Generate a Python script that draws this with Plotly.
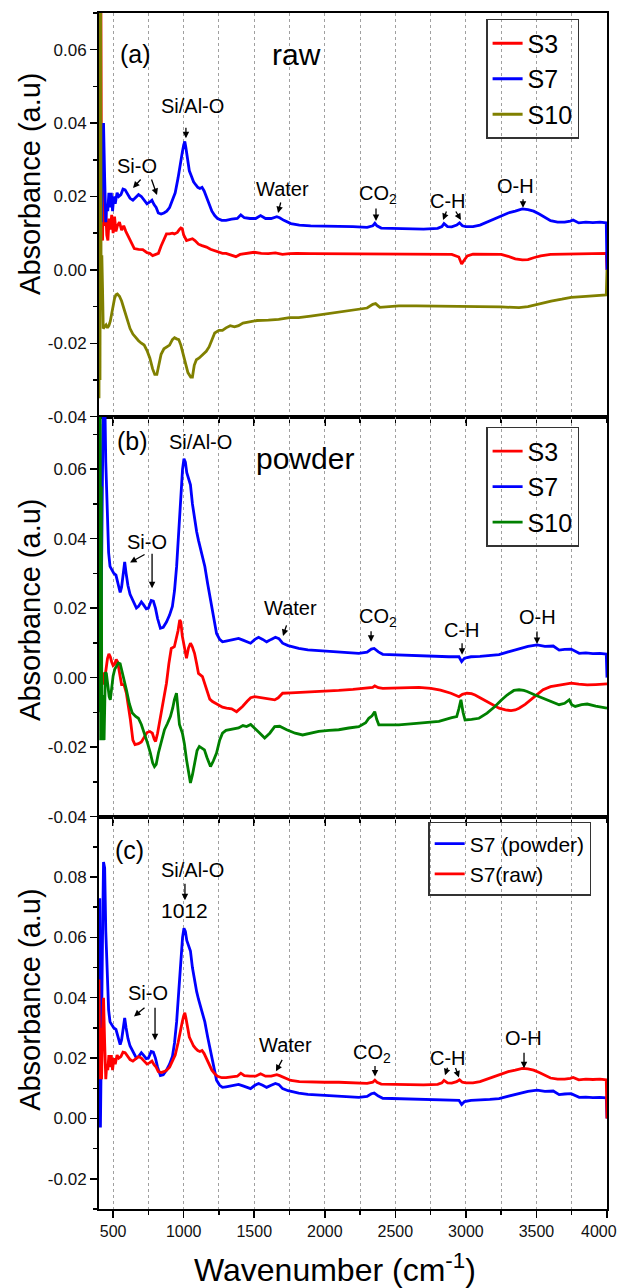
import plotly.graph_objects as go

# ---------------- data ----------------
s7_raw_wn = [400, 406, 412, 418, 424, 432, 440, 448, 455, 462, 470, 478, 487, 496, 505, 515, 528, 540, 555, 570,
             585, 600, 620, 640, 660, 680, 700, 720, 740, 760, 775, 790, 805, 820, 840, 860, 880, 900, 920, 940,
             960, 975, 990, 1000, 1008, 1015, 1025, 1040, 1055, 1070, 1085, 1100, 1115, 1130, 1145, 1160, 1180,
             1200, 1220, 1240, 1270, 1300, 1340, 1380, 1405, 1430, 1470, 1510, 1545, 1580, 1620, 1660, 1680, 1710,
             1760, 1820, 1900, 2000, 2100, 2200, 2300, 2340, 2355, 2370, 2400, 2500, 2600, 2700, 2800, 2830, 2845,
             2870, 2900, 2935, 2955, 2975, 3000, 3050, 3100, 3150, 3200, 3250, 3300, 3350, 3400, 3440, 3480, 3520,
             3560, 3600, 3650, 3700, 3740, 3760, 3800, 3850, 3900, 3950, 3995, 4000]
s7_raw_abs = [0.046, 0.013, 0.030, 0.013, 0.028, 0.040, 0.025, 0.013, 0.018, 0.016, 0.021, 0.017, 0.021, 0.016,
              0.020, 0.018, 0.021, 0.020, 0.0205, 0.022, 0.0218, 0.0208, 0.0195, 0.019, 0.0198, 0.0205, 0.020,
              0.019, 0.018, 0.0185, 0.019, 0.0178, 0.017, 0.0155, 0.0152, 0.0155, 0.016, 0.017, 0.019, 0.021,
              0.025, 0.029, 0.032, 0.034, 0.035, 0.0335, 0.031, 0.027, 0.0255, 0.024, 0.0232, 0.0225, 0.0222,
              0.0225, 0.0215, 0.020, 0.018, 0.016, 0.0148, 0.014, 0.0135, 0.0135, 0.0138, 0.014, 0.015, 0.0142,
              0.014, 0.014, 0.0148, 0.014, 0.014, 0.0145, 0.0142, 0.0135, 0.0126, 0.0122, 0.012, 0.012, 0.012,
              0.0118, 0.0116, 0.012, 0.0127, 0.012, 0.0114, 0.0113, 0.0112, 0.0111, 0.0113, 0.0118, 0.0126,
              0.0118, 0.0117, 0.0122, 0.0128, 0.012, 0.0118, 0.0118, 0.0122, 0.013, 0.0138, 0.0148, 0.0155,
              0.016, 0.0166, 0.0164, 0.016, 0.0152, 0.0142, 0.0134, 0.013, 0.013, 0.0133, 0.0136, 0.0128, 0.013,
              0.0129, 0.013, 0.0128, 0.000]

s7_pow_wn = [400, 405, 410, 418, 425, 432, 440, 448, 458, 468, 478, 490, 505, 520, 535, 550, 560, 572, 582, 592,
             605, 620, 636, 650, 665, 680, 700, 715, 735, 750, 770, 785, 800, 815, 835, 855, 878, 900, 920, 935,
             950, 965, 980, 992, 1002, 1012, 1022, 1035, 1048, 1062, 1077, 1092, 1105, 1120, 1135, 1150, 1170,
             1190, 1210, 1233, 1255, 1275, 1300, 1332, 1360, 1389, 1420, 1450, 1474, 1505, 1531, 1560, 1588, 1620,
             1650, 1675, 1701, 1740, 1780, 1815, 1880, 1957, 2030, 2099, 2170, 2241, 2300, 2330, 2350, 2380, 2411,
             2470, 2525, 2600, 2700, 2809, 2880, 2951, 2970, 2990, 3036, 3100, 3170, 3235, 3300, 3377, 3440, 3505,
             3560, 3619, 3661, 3700, 3746, 3803, 3850, 3900, 3950, 3995, 4000]
s7_pow_abs = [0.020, 0.073, -0.003, 0.040, 0.060, 0.085, 0.083, 0.062, 0.045, 0.036, 0.032, 0.031, 0.030, 0.0295,
              0.027, 0.0245, 0.026, 0.031, 0.0333, 0.030, 0.0265, 0.024, 0.0225, 0.021, 0.020, 0.0205, 0.0218,
              0.021, 0.0198, 0.020, 0.0222, 0.022, 0.020, 0.017, 0.0142, 0.0145, 0.016, 0.018, 0.0205, 0.025,
              0.032, 0.042, 0.052, 0.060, 0.063, 0.062, 0.059, 0.057, 0.0555, 0.050, 0.0453, 0.042, 0.0395, 0.037,
              0.0345, 0.032, 0.027, 0.0223, 0.017, 0.0127, 0.011, 0.0103, 0.0105, 0.0108, 0.011, 0.0113, 0.0108,
              0.0102, 0.0099, 0.011, 0.0116, 0.011, 0.0103, 0.011, 0.0116, 0.0112, 0.0099, 0.0092, 0.0087, 0.0084,
              0.008, 0.0078, 0.0076, 0.0075, 0.0072, 0.007, 0.0073, 0.0082, 0.0084, 0.0074, 0.0067, 0.0066, 0.0065,
              0.0064, 0.0062, 0.006, 0.006, 0.006, 0.0046, 0.0056, 0.006, 0.0061, 0.0063, 0.0066, 0.0074, 0.0084,
              0.009, 0.0094, 0.009, 0.0091, 0.0079, 0.0081, 0.0082, 0.007, 0.0071, 0.0069, 0.007, 0.0068, 0.0]

s3_raw_wn = [400, 406, 412, 418, 425, 432, 440, 448, 455, 463, 472, 480, 490, 500, 510, 520, 530, 545, 560, 575,
             590, 610, 630, 650, 680, 710, 740, 760, 780, 800, 821, 840, 860, 878, 900, 920, 934, 955, 970, 980,
             990, 1000, 1020, 1040, 1062, 1080, 1105, 1130, 1162, 1190, 1233, 1275, 1300, 1340, 1370, 1400, 1450,
             1500, 1550, 1600, 1650, 1700, 1750, 1800, 1900, 2000, 2200, 2400, 2600, 2800, 2900, 2950, 2970, 2985,
             3010, 3050, 3150, 3250, 3300, 3350, 3400, 3440, 3480, 3530, 3600, 3700, 3800, 3900, 3995, 4000]
s3_raw_abs = [0.030, 0.090, 0.090, 0.010, 0.008, 0.0225, 0.012, 0.016, 0.0095, 0.008, 0.014, 0.011, 0.015, 0.010,
              0.0145, 0.0105, 0.012, 0.013, 0.0108, 0.012, 0.0105, 0.009, 0.0075, 0.0058, 0.0056, 0.0055, 0.0047,
              0.0045, 0.0039, 0.0042, 0.0045, 0.0065, 0.0085, 0.0098, 0.0098, 0.0100, 0.0098, 0.0102, 0.0110,
              0.0114, 0.0112, 0.0095, 0.0080, 0.0082, 0.0085, 0.0080, 0.0070, 0.0066, 0.0062, 0.0056, 0.0050,
              0.0045, 0.0045, 0.0040, 0.0036, 0.0042, 0.0046, 0.0048, 0.0045, 0.0044, 0.0046, 0.0042, 0.0044,
              0.0045, 0.0044, 0.0044, 0.0043, 0.0043, 0.0044, 0.0043, 0.0042, 0.0035, 0.0016, 0.0025, 0.0038,
              0.0043, 0.0043, 0.0042, 0.0037, 0.0030, 0.0027, 0.0028, 0.0033, 0.0038, 0.0042, 0.0043, 0.0045,
              0.0044, 0.0045, 0.0]

s10_raw_wn = [400, 403, 407, 411, 415, 420, 425, 430, 440, 450, 460, 470, 480, 490, 500, 510, 520, 530, 545, 560,
              580, 600, 620, 640, 660, 680, 700, 720, 740, 760, 780, 795, 810, 825, 840, 860, 880, 900, 920, 935,
              950, 965, 980, 995, 1010, 1030, 1050, 1062, 1075, 1090, 1110, 1130, 1160, 1180, 1200, 1220, 1250,
              1275, 1300, 1330, 1360, 1389, 1420, 1446, 1480, 1520, 1600, 1673, 1750, 1815, 1900, 1957, 2030, 2099,
              2170, 2241, 2300, 2340, 2360, 2390, 2450, 2525, 2650, 2809, 2950, 3093, 3250, 3377, 3440, 3490, 3550,
              3604, 3680, 3746, 3850, 3945, 3995, 4000]
s10_raw_abs = [-0.035, 0.090, -0.030, 0.090, -0.010, 0.004, -0.005, -0.016, -0.0155, -0.015, -0.0158, -0.0152,
               -0.014, -0.012, -0.0095, -0.0078, -0.0068, -0.0066, -0.0072, -0.0085, -0.011, -0.0135, -0.016,
               -0.0175, -0.0185, -0.0193, -0.020, -0.0205, -0.022, -0.024, -0.027, -0.0285, -0.0285, -0.026,
               -0.023, -0.0215, -0.021, -0.0205, -0.019, -0.0185, -0.0188, -0.019, -0.0205, -0.023, -0.025,
               -0.028, -0.0292, -0.0292, -0.026, -0.0245, -0.024, -0.0232, -0.0222, -0.021, -0.019, -0.0172,
               -0.0165, -0.0165, -0.0158, -0.0152, -0.0155, -0.0152, -0.0145, -0.0143, -0.014, -0.0138, -0.0137,
               -0.0135, -0.013, -0.013, -0.0126, -0.0123, -0.012, -0.0115, -0.0112, -0.0108, -0.0104, -0.0094,
               -0.0092, -0.0102, -0.010, -0.0098, -0.0098, -0.0098, -0.0099, -0.010, -0.0101, -0.0103, -0.010,
               -0.0095, -0.009, -0.0085, -0.008, -0.0075, -0.0072, -0.007, -0.0068, 0.0]

s3_pow_wn = [400, 410, 418, 425, 435, 448, 460, 470, 480, 490, 500, 512, 522, 532, 545, 560, 577, 594, 622, 640,
             655, 680, 700, 720, 740, 760, 778, 792, 801, 815, 835, 855, 878, 895, 912, 934, 948, 960, 972, 980,
             990, 1000, 1010, 1020, 1034, 1048, 1060, 1077, 1092, 1105, 1133, 1162, 1185, 1204, 1247, 1275, 1304,
             1340, 1375, 1400, 1417, 1450, 1475, 1503, 1530, 1560, 1600, 1645, 1670, 1701, 1760, 1815, 1900, 2000,
             2099, 2200, 2298, 2340, 2354, 2380, 2411, 2500, 2600, 2667, 2752, 2820, 2894, 2930, 2951, 2975, 3008,
             3040, 3065, 3110, 3150, 3200, 3235, 3280, 3320, 3350, 3377, 3420, 3462, 3500, 3547, 3600, 3661, 3700,
             3746, 3800, 3860, 3920, 3995, 4000]
s3_pow_abs = [0.005, 0.028, 0.000, 0.0015, -0.002, 0.002, 0.0055, 0.0068, 0.006, 0.0045, 0.0035, 0.004, 0.0052,
              0.0045, 0.001, -0.002, -0.002, -0.0045, -0.012, -0.018, -0.0193, -0.019, -0.0185, -0.017, -0.0158,
              -0.0155, -0.016, -0.0178, -0.0184, -0.016, -0.0112, -0.006, -0.0016, 0.004, 0.0084, 0.0089, 0.011,
              0.0135, 0.0166, 0.016, 0.012, 0.0095, 0.007, 0.0056, 0.0085, 0.0099, 0.009, 0.007, 0.004, 0.0012,
              0.0003, -0.0035, -0.0062, -0.0069, -0.0078, -0.0085, -0.0088, -0.009, -0.0098, -0.009, -0.0083,
              -0.0068, -0.0058, -0.0055, -0.0057, -0.0059, -0.006, -0.0064, -0.0058, -0.0045, -0.0044, -0.0043,
              -0.0041, -0.0039, -0.0037, -0.0034, -0.0031, -0.0028, -0.0024, -0.0029, -0.0031, -0.003, -0.0029,
              -0.0028, -0.0031, -0.0036, -0.0045, -0.005, -0.0055, -0.0048, -0.0045, -0.0046, -0.005, -0.006,
              -0.0069, -0.008, -0.0088, -0.0093, -0.0095, -0.0093, -0.0088, -0.0077, -0.0064, -0.005, -0.0035,
              -0.0026, -0.0021, -0.0019, -0.0016, -0.0019, -0.0021, -0.002, -0.0018, -0.0018]

s10_pow_wn = [400, 404, 408, 412, 416, 420, 428, 436, 445, 452, 462, 472, 480, 490, 500, 512, 525, 537, 550, 565,
              580, 594, 615, 636, 660, 679, 700, 722, 745, 764, 780, 793, 805, 821, 845, 864, 885, 906, 922, 934,
              949, 958, 970, 991, 1005, 1020, 1035, 1048, 1062, 1077, 1095, 1111, 1128, 1147, 1165, 1190, 1210,
              1233, 1255, 1275, 1300, 1332, 1360, 1389, 1420, 1446, 1475, 1503, 1540, 1574, 1610, 1645, 1680, 1730,
              1790, 1843, 1900, 1957, 2030, 2099, 2170, 2241, 2290, 2312, 2335, 2354, 2368, 2383, 2450, 2525, 2650,
              2809, 2900, 2935, 2950, 2965, 2980, 2994, 3040, 3093, 3150, 3206, 3250, 3292, 3340, 3377, 3410, 3434,
              3490, 3547, 3600, 3661, 3700, 3732, 3750, 3775, 3820, 3860, 3920, 3988, 4000]
s10_pow_abs = [0.090, -0.010, 0.090, -0.018, 0.055, -0.018, -0.005, -0.018, 0.0015, 0.0012, -0.002, -0.0055,
               -0.0064, -0.003, 0.0005, 0.0025, 0.0035, 0.0042, 0.004, 0.0017, -0.001, -0.0035, -0.0075, -0.0102,
               -0.0112, -0.0117, -0.0135, -0.016, -0.019, -0.0217, -0.0245, -0.0256, -0.025, -0.0217, -0.0175,
               -0.015, -0.0132, -0.0112, -0.0088, -0.0064, -0.0045, -0.009, -0.0135, -0.016, -0.019, -0.0236,
               -0.028, -0.0303, -0.028, -0.0246, -0.021, -0.0198, -0.0202, -0.0208, -0.023, -0.0256, -0.024,
               -0.0217, -0.018, -0.016, -0.0152, -0.015, -0.0148, -0.0145, -0.0138, -0.0141, -0.0135, -0.0145,
               -0.016, -0.0174, -0.016, -0.0141, -0.014, -0.015, -0.016, -0.0165, -0.016, -0.0155, -0.0152, -0.015,
               -0.0145, -0.0141, -0.013, -0.0117, -0.011, -0.0098, -0.012, -0.0136, -0.0136, -0.0136, -0.0132,
               -0.0126, -0.0115, -0.0112, -0.009, -0.0064, -0.010, -0.0122, -0.012, -0.0117, -0.0102, -0.0083,
               -0.0065, -0.005, -0.0037, -0.0035, -0.0037, -0.004, -0.005, -0.0059, -0.0068, -0.0078, -0.0074,
               -0.0064, -0.0078, -0.0083, -0.0078, -0.0076, -0.0082, -0.0088, -0.0088]

x_tick_vals = [500, 1000, 1500, 2000, 2500, 3000, 3500, 4000]
x_tick_text = ["500", "1000", "1500", "2000", "2500", "3000", "3500", "4000"]
y_tick_vals = [-0.04, -0.02, 0.00, 0.02, 0.04, 0.06, 0.08]
y_tick_text = ["-0.04", "-0.02", "0.00", "0.02", "0.04", "0.06", "0.08"]

# ---------------- styling ----------------
FONT = "Liberation Sans, Arial, sans-serif"
RED, BLUE, OLIVE, GREEN = "#ff0000", "#0000ff", "#808000", "#008000"
LW = 2.8
YTICKFONT = dict(family=FONT, size=17, color="#111")
XTICKFONT = dict(family=FONT, size=16, color="#111")

fig = go.Figure()


def add(x, y, name, color, xa, ya, legend):
    fig.add_trace(go.Scatter(x=x, y=y, name=name, mode="lines", line=dict(color=color, width=LW),
                             xaxis=xa, yaxis=ya, legend=legend))


add(s3_raw_wn, s3_raw_abs, "S3", RED, "x", "y", "legend")
add(s7_raw_wn, s7_raw_abs, "S7", BLUE, "x", "y", "legend")
add(s10_raw_wn, s10_raw_abs, "S10", OLIVE, "x", "y", "legend")

add(s3_pow_wn, s3_pow_abs, "S3", RED, "x2", "y2", "legend2")
add(s7_pow_wn, s7_pow_abs, "S7", BLUE, "x2", "y2", "legend2")
add(s10_pow_wn, s10_pow_abs, "S10", GREEN, "x2", "y2", "legend2")

add(s7_pow_wn, s7_pow_abs, "S7 (powder)", BLUE, "x3", "y3", "legend3")
add(s7_raw_wn, s7_raw_abs, "S7(raw)", RED, "x3", "y3", "legend3")

GRID = "#a0a0a0"
XRANGE = [399.9, 4000.1]

# the last x label sits at the picture's right edge; it is drawn as an annotation so it stays inside
axis_x_text = x_tick_text[:-1] + [""]


def xaxis(anchor, labels):
    return dict(anchor=anchor, range=XRANGE, automargin=False, tickmode="array", tickvals=x_tick_vals,
                ticktext=axis_x_text,
                ticks="outside", ticklen=7, tickwidth=1.5, tickcolor="black", showticklabels=labels,
                tickfont=XTICKFONT, ticklabeloverflow="allow",
                showline=True, linewidth=2, linecolor="black", mirror=True, zeroline=False,
                showgrid=True, gridcolor=GRID, griddash="dot", gridwidth=1,
                minor=dict(tickmode="linear", tick0=0, dtick=250, ticks="outside", ticklen=4, tickwidth=1.5,
                           tickcolor="black", showgrid=True, gridcolor=GRID, griddash="dot", gridwidth=1))


def yaxis(anchor, domain, rng):
    return dict(anchor=anchor, domain=domain, range=rng, automargin=False, tickmode="array",
                tickvals=y_tick_vals,
                ticktext=y_tick_text, ticks="outside", ticklen=7, tickwidth=1.5, tickcolor="black",
                tickfont=YTICKFONT, ticklabeloverflow="allow",
                showline=True, linewidth=2, linecolor="black", mirror=True, zeroline=False, showgrid=False,
                minor=dict(tickmode="linear", tick0=0, dtick=0.01, ticks="outside", ticklen=4, tickwidth=1.5,
                           tickcolor="black"))


fig.update_layout(
    width=620, height=1288,
    margin=dict(l=99, r=13, t=13, b=79, autoexpand=False),
    paper_bgcolor="white", plot_bgcolor="white",
    font=dict(family=FONT, color="black"),
    xaxis=xaxis("y", False),
    xaxis2=xaxis("y2", False),
    xaxis3=xaxis("y3", True),
    xaxis4=dict(overlaying="x", side="top", anchor="y", range=XRANGE, automargin=False, tick0=0, dtick=500,
                ticks="inside", ticklen=6, tickwidth=1.5, tickcolor="black", showticklabels=False,
                showgrid=False, showline=False, zeroline=False,
                minor=dict(tick0=0, dtick=250, ticks="inside", ticklen=6, tickwidth=1.5, tickcolor="black")),
    yaxis=yaxis("x", [0.6622, 1.0], [-0.0401, 0.07]),
    yaxis2=yaxis("x2", [0.3278, 0.6622], [-0.0401, 0.075]),
    yaxis3=yaxis("x3", [0.0, 0.3278], [-0.03, 0.0999]),
    legend=dict(x=0.762, y=0.995, xanchor="left", yanchor="top", bordercolor="#333", borderwidth=1.5,
                bgcolor="rgba(255,255,255,0)", font=dict(family=FONT, size=25), tracegroupgap=0),
    legend2=dict(x=0.762, y=0.654, xanchor="left", yanchor="top", bordercolor="#333", borderwidth=1.5,
                 bgcolor="rgba(255,255,255,0)", font=dict(family=FONT, size=25), tracegroupgap=0),
    legend3=dict(x=0.648, y=0.3236, xanchor="left", yanchor="top", bordercolor="#333", borderwidth=1.5,
                 bgcolor="rgba(255,255,255,0)", font=dict(family=FONT, size=21), tracegroupgap=0),
)

annotations = []


def label(text, x, y, panel, size=20):
    sfx = "" if panel == 1 else str(panel)
    annotations.append(dict(text=text, x=x, y=y, xref="x" + sfx, yref="y" + sfx, showarrow=False,
                            font=dict(family=FONT, size=size, color="black"),
                            xanchor="center", yanchor="middle"))


def arrow(x, y, ax, ay, panel):
    sfx = "" if panel == 1 else str(panel)
    annotations.append(dict(text="", x=x, y=y, xref="x" + sfx, yref="y" + sfx, showarrow=True,
                            ax=ax, ay=ay, arrowhead=2, arrowsize=1, arrowwidth=1.3, arrowcolor="black",
                            standoff=0))


# panel (a)
label("(a)", 662, 0.0588, 1, 25)
label("raw", 1803, 0.0588, 1, 30)
label("Si/Al-O", 1059, 0.0446, 1)
label("Si-O", 669, 0.0283, 1)
label("Water", 1697, 0.0220, 1)
label("CO<sub>2</sub>", 2377, 0.0205, 1)
label("C-H", 2873, 0.0188, 1)
label("O-H", 3355, 0.0229, 1)
arrow(1016, 0.0359, 0, -12, 1)
arrow(641, 0.0223, 9, -10, 1)
arrow(811, 0.0204, -6, -17, 1)
arrow(1669, 0.0155, 3, -12, 1)
arrow(2363, 0.0133, 0, -14, 1)
arrow(2838, 0.0136, 4, -10, 1)
arrow(2965, 0.0136, -6, -10, 1)
arrow(3405, 0.0169, 0, -10, 1)

# panel (b)
label("(b)", 634, 0.0680, 2, 25)
label("Si/Al-O", 1116, 0.0677, 2)
label("powder", 1860, 0.0631, 2, 30)
label("Si-O", 740, 0.0389, 2)
label("Water", 1754, 0.0200, 2)
label("CO<sub>2</sub>", 2377, 0.0172, 2)
label("C-H", 2973, 0.0137, 2)
label("O-H", 3504, 0.0174, 2)
arrow(620, 0.0331, 16, -9, 2)
arrow(776, 0.0257, 0, -36, 2)
arrow(1704, 0.0120, 4, -12, 2)
arrow(2328, 0.0103, 0, -12, 2)
arrow(2973, 0.0066, 0, -13, 2)
arrow(3504, 0.0097, 0, -14, 2)

# panel (c)
label("(c)", 613, 0.0889, 3, 25)
label("Si/Al-O", 1059, 0.0823, 3)
label("1012", 1009, 0.0690, 3, 21)
label("Si-O", 747, 0.0415, 3)
label("Water", 1725, 0.0242, 3)
label("CO<sub>2</sub>", 2335, 0.0214, 3)
label("C-H", 2873, 0.0199, 3)
label("O-H", 3405, 0.0265, 3)
arrow(1009, 0.0723, 0, -18, 3)
arrow(648, 0.0338, 12, -10, 3)
arrow(797, 0.0259, 0, -34, 3)
arrow(1654, 0.0156, 7, -13, 3)
arrow(2356, 0.0139, 0, -12, 3)
arrow(2852, 0.0143, 3, -9, 3)
arrow(2951, 0.0136, -4, -11, 3)
arrow(3412, 0.0166, 0, -17, 3)

# last x tick label (kept inside the picture)
annotations.append(dict(text=x_tick_text[-1], x=x_tick_vals[-1], y=-0.0184, xref="x3", yref="paper",
                        showarrow=False, xanchor="right", yanchor="middle", xshift=12,
                        font=XTICKFONT))

# axis titles
for yc in (0.857, 0.5008, 0.1748):
    annotations.append(dict(text="Absorbance (a.u)", x=-0.136, y=yc, xref="paper", yref="paper",
                            showarrow=False, textangle=-90, xanchor="center", yanchor="middle",
                            font=dict(family=FONT, size=29, color="black")))
annotations.append(dict(text="Wavenumber (cm<sup>-1</sup>)", x=0.4646, y=-0.0493, xref="paper", yref="paper",
                        showarrow=False, xanchor="center", yanchor="middle",
                        font=dict(family=FONT, size=32, color="black")))

fig.update_layout(annotations=annotations)

fig.write_html("out.html",
               config={"displayModeBar": False, "staticPlot": True},
               post_script="document.body.style.margin='0';document.body.style.padding='0';"
                           "document.body.style.overflow='hidden';")
